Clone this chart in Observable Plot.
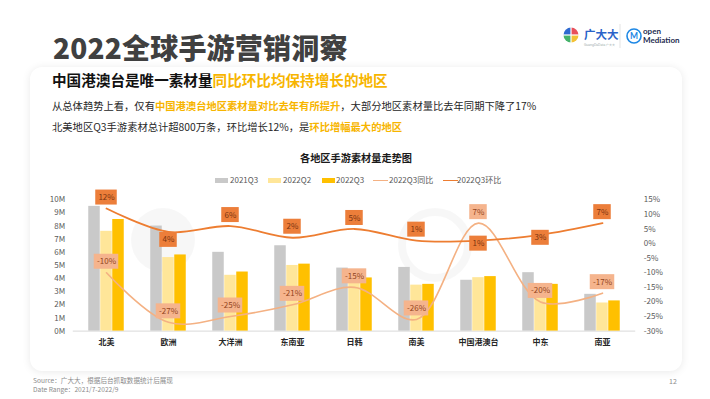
<!DOCTYPE html>
<html>
<head>
<meta charset="utf-8">
<script src="https://cdn.jsdelivr.net/npm/d3@7"></script>
<script src="https://cdn.jsdelivr.net/npm/@observablehq/plot@0.6"></script>
<style>
  html, body { margin: 0; padding: 0; background: #ffffff; }
  body { width: 710px; height: 399px; position: relative; overflow: hidden;
         font-family: "Noto Sans CJK SC", "Noto Sans", sans-serif; }
  .abs { position: absolute; white-space: nowrap; }
  #title { left: 53px; top: 29px; font-size: 28px; font-weight: 900; color: #404040; letter-spacing: 0.2px; line-height: 36px; }
  #card { left: 30px; top: 67px; width: 652px; height: 304px; border-radius: 12px; background: #fff;
          box-shadow: 0 1px 8px rgba(0,0,0,0.09); }
  #sub { left: 52px; top: 70px; font-size: 14.6px; font-weight: 700; color: #111; line-height: 20px; }
  .hl { color: #F7B500; }
  .p { left: 52px; font-size: 10.3px; color: #262626; line-height: 14px; }
  .pb { color: #F7B500; font-weight: 700; }
  #ctitle { left: 0; width: 712px; text-align: center; top: 150px; font-size: 10.2px; font-weight: 700; color: #1a1a1a; }
  .lg { top: 174px; font-size: 8px; color: #595959; line-height: 12px; }
  .sw { position: absolute; }
  #foot { left: 33px; top: 376px; font-size: 6.6px; color: #8c8c8c; line-height: 8.5px; }
  #pnum { left: 669px; top: 376px; font-size: 7px; color: #8c8c8c; }
  #chart { left: 0; top: 185px; }
</style>
</head>
<body>
<script>
// ---- data ----
const categories = ["北美", "欧洲", "大洋洲", "东南亚", "日韩", "南美", "中国港澳台", "中东", "南亚"];
const q3_2021 = [9.5, 8.0, 6.0, 6.5, 4.8, 4.85, 3.87, 4.45, 2.8];
const q2_2022 = [7.6, 5.6, 4.25, 5.0, 3.85, 3.5, 4.07, 3.45, 2.14];
const q3_2022 = [8.5, 5.8, 4.5, 5.1, 4.05, 3.56, 4.15, 3.56, 2.3];
const yoy = [-10, -27, -25, -21, -15, -26, 7, -20, -17];   // 2022Q3同比 (%)
const mom = [12, 4, 6, 2, 5, 1, 1, 3, 7];                  // 2022Q3环比 (%)
const leftTicks = [0, 1, 2, 3, 4, 5, 6, 7, 8, 9, 10];       // M
const rightTicks = [-30, -25, -20, -15, -10, -5, 0, 5, 10, 15]; // %
const seriesNames = ["2021Q3", "2022Q2", "2022Q3", "2022Q3同比", "2022Q3环比"];
</script>

<div id="card" class="abs"></div>

<!-- faint watermark shapes -->
<div class="abs" style="left:128px; top:205px;">
  <svg width="70" height="70"><circle cx="35" cy="35" r="32" fill="rgba(0,0,0,0.03)"/></svg>
</div>
<div class="abs" style="left:395px; top:205px;">
  <svg width="80" height="80"><circle cx="40" cy="40" r="33" fill="none" stroke="rgba(0,0,0,0.03)" stroke-width="8"/></svg>
</div>

<div id="title" class="abs">2022全球手游营销洞察</div>

<!-- logos -->
<div class="abs" style="left:560px; top:22px;">
  <svg width="135" height="30">
    <g transform="translate(11,13)">
      <path d="M0,0 L0,-7.5 A7.5,7.5 0 0,0 -7.5,0 Z" fill="#2f6ad0"/>
      <path d="M0,0 L7.5,0 A7.5,7.5 0 0,0 0,-7.5 Z" fill="#e8505b"/>
      <path d="M0,0 L-7.5,0 A7.5,7.5 0 0,0 0,7.5 Z" fill="#45b36b"/>
      <path d="M0,0 L0,7.5 A7.5,7.5 0 0,0 7.5,0 Z" fill="#f3c136"/>
      <line x1="-8" y1="0" x2="8" y2="0" stroke="#fff" stroke-width="1.2"/>
      <line x1="0" y1="-8" x2="0" y2="8" stroke="#fff" stroke-width="1.2"/>
    </g>
    <text x="24" y="17" font-size="11.5" font-weight="700" fill="#2a63c9" font-family="Noto Sans CJK SC">广大大</text>
    <text x="24" y="23.5" font-size="3.2" fill="#9aa" font-family="Noto Sans">GuangDaData 广大大</text>
    <line x1="60" y1="2" x2="60" y2="26" stroke="#dcdcdc" stroke-width="0.8"/>
    <g transform="translate(74,14)">
      <circle r="7" fill="none" stroke="#1e88e5" stroke-width="1.6"/>
      <text x="0" y="3.2" font-size="8.5" font-weight="700" text-anchor="middle" fill="#1e88e5" font-family="Lato">M</text>
    </g>
    <text x="83" y="12" font-size="8" font-weight="700" fill="#1d2b4f" font-family="Lato">open</text>
    <text x="83" y="21" font-size="8" font-weight="700" fill="#1d2b4f" font-family="Lato">Mediation</text>
  </svg>
</div>

<div id="sub" class="abs">中国港澳台是唯一素材量<span class="hl">同比环比均保持增长的地区</span></div>
<div class="abs p" style="top:99px;">从总体趋势上看，仅有<span class="pb">中国港澳台地区素材量对比去年有所提升</span>，大部分地区素材量比去年同期下降了17%</div>
<div class="abs p" style="top:120px;">北美地区Q3手游素材总计超800万条，环比增长12%，是<span class="pb">环比增幅最大的地区</span></div>

<div id="ctitle" class="abs">各地区手游素材量走势图</div>

<div id="legend"></div>

<div id="chart" class="abs"></div>

<div id="foot" class="abs">Source：广大大，根据后台抓取数据统计后展现<br>Date Range：2021/7-2022/9</div>
<div id="pnum" class="abs">12</div>

<script>
const colors = {
  gray: "#C9C9C9", light: "#FFE699", gold: "#FFC000",
  yoyLine: "#F4B183", momLine: "#ED7D31",
  yoyBox: "#F5B48D", momBox: "#EC7E3A",
  yoyText: "#93451c", momText: "#7a3410"
};
const FONT = "'Noto Sans CJK SC', 'Noto Sans', sans-serif";

// legend
const lgItems = [
  {name: seriesNames[0], type: "bar", color: colors.gray, sx: 215, tx: 230},
  {name: seriesNames[1], type: "bar", color: colors.light, sx: 268, tx: 283},
  {name: seriesNames[2], type: "bar", color: colors.gold, sx: 322, tx: 336},
  {name: seriesNames[3], type: "line", color: colors.yoyLine, sx: 373, tx: 389},
  {name: seriesNames[4], type: "line", color: colors.momLine, sx: 443, tx: 457}
];
const lg = document.getElementById("legend");
for (const it of lgItems) {
  const s = document.createElement("div");
  s.className = "sw";
  if (it.type === "bar") {
    s.style.cssText = `left:${it.sx}px; top:177.5px; width:13px; height:5px; background:${it.color};`;
  } else {
    s.style.cssText = `left:${it.sx}px; top:179.5px; width:15px; height:1.6px; background:${it.color};`;
  }
  lg.appendChild(s);
  const t = document.createElement("div");
  t.className = "abs lg";
  t.style.left = it.tx + "px";
  t.textContent = it.name;
  lg.appendChild(t);
}

// chart geometry
const W = 710, H = 175;
const mL = 72.75, mR = 74.75, mT = 14.3, mB = 29.4;
const step = (W - mL - mR) / categories.length;
const pxPerUnit = (H - mT - mB) / 10;
const barInset = (step - 12) / 2;

const toY = p => (p + 30) / 4.5;          // map % onto the left (M) scale
const fromY = v => Math.round(v * 4.5 - 30);

const rows = categories.map((c, i) => ({
  c, a: q3_2021[i], b: q2_2022[i], g: q3_2022[i], yoy: yoy[i], mom: mom[i]
}));

// text measurement for label box widths
const ctx = document.createElement("canvas").getContext("2d");
ctx.font = `8px ${FONT}`;
const boxW = s => Math.round(ctx.measureText(s).width + 6);

const momDy = {"欧洲": 8, "中国港澳台": 3, "中东": 3};
const boxHalf = 7.5 / pxPerUnit;

const labels = [
  ...rows.map(d => ({c: d.c, v: toY(d.yoy), t: d.yoy + "%", dy: -11, kind: "yoy"})),
  ...rows.map(d => ({c: d.c, v: toY(d.mom), t: d.mom + "%", dy: momDy[d.c] ?? -11, kind: "mom"}))
].map(l => ({...l, w: boxW(l.t)}));

// group labels so that each mark has constant dy / inset / colors (yoy first, mom on top)
const groups = d3.groups(labels, l => `${l.kind}|${l.dy}|${l.w}`).map(([k, arr]) => arr);

const labelMarks = groups.flatMap(arr => {
  const {kind, dy, w} = arr[0];
  const inset = (step - w) / 2;
  return [
    Plot.barY(arr, {x: "c", y1: l => l.v - boxHalf, y2: l => l.v + boxHalf, dy,
                    insetLeft: inset, insetRight: inset,
                    fill: kind === "yoy" ? colors.yoyBox : colors.momBox}),
    Plot.text(arr, {x: "c", y: "v", text: "t", dy, fontSize: 8,
                    fill: kind === "yoy" ? colors.yoyText : colors.momText})
  ];
});

const marks = [
  Plot.ruleY([0], {stroke: "#d9d9d9", strokeWidth: 1}),
  Plot.barY(rows, {x: "c", y: "a", fill: colors.gray, dx: -12, insetLeft: barInset, insetRight: barInset}),
  Plot.barY(rows, {x: "c", y: "b", fill: colors.light, dx: 0, insetLeft: barInset, insetRight: barInset}),
  Plot.barY(rows, {x: "c", y: "g", fill: colors.gold, dx: 12, insetLeft: barInset, insetRight: barInset}),
  Plot.line(rows, {x: "c", y: d => toY(d.yoy), stroke: colors.yoyLine, strokeWidth: 1.6, curve: "catmull-rom"}),
  Plot.line(rows, {x: "c", y: d => toY(d.mom), stroke: colors.momLine, strokeWidth: 1.8, curve: "catmull-rom"}),
  ...labelMarks,
  Plot.axisY(leftTicks, {anchor: "left", tickSize: 0, tickPadding: 8, tickFormat: d => d + "M", label: null,
                         fontSize: 8, fill: "#595959"}),
  Plot.axisY(rightTicks.map(toY), {anchor: "right", tickSize: 0, tickPadding: 8, tickFormat: v => fromY(v) + "%",
                                   label: null, fontSize: 8, fill: "#595959"}),
  Plot.axisX({anchor: "bottom", tickSize: 0, tickPadding: 8, label: null, fontSize: 8, fontWeight: "bold", fill: "#262626"})
];

const chart = Plot.plot({
  width: W, height: H,
  marginLeft: mL, marginRight: mR, marginTop: mT, marginBottom: mB,
  x: {type: "band", domain: categories, padding: 0, axis: null},
  y: {domain: [0, 10], axis: null},
  style: {fontFamily: FONT, fontSize: "8px", background: "transparent", color: "#595959", overflow: "visible"},
  marks
});
document.getElementById("chart").appendChild(chart);
</script>
</body>
</html>
